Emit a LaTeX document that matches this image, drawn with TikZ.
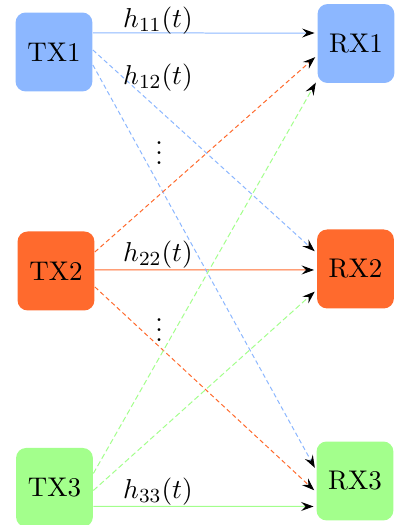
\documentclass[tikz,border=0pt]{standalone}
\usepackage{amsmath, amssymb}
\usepackage{xcolor}
\usepackage{tikz}
\usetikzlibrary{arrows.meta, positioning}

\definecolor{chblue}{RGB}{140,183,255}
\definecolor{chorange}{RGB}{255,106,45}
\definecolor{chgreen}{RGB}{163,255,140}

\begin{document}
\begin{tikzpicture}[
unit/.style={rounded corners=4pt, minimum width=1.08cm, minimum height=1.11cm, align=center},
link/.style={thin, shorten >=1pt, -{Stealth[length=5pt, width=3.6pt, inset=1.8pt, color=black]}},
cross/.style={link, dash pattern=on 1.8pt off 1.2pt},
every node/.style={font=\fontsize{10.8pt}{13pt}\selectfont}
]
\useasboundingbox (0,0) rectangle (5.54,-7.382);
% transmitters
\node[unit, fill=chblue] (tx1) at (0.759,-0.731) {TX1};
\node[unit, fill=chorange] (tx2) at (0.787,-3.810) {TX2};
\node[unit, fill=chgreen] (tx3) at (0.766,-6.854) {TX3};
% receivers
\node[unit, fill=chblue] (rx1) at (5.005,-0.612) {RX1};
\node[unit, fill=chorange] (rx2) at (4.998,-3.782) {RX2};
\node[unit, fill=chgreen] (rx3) at (4.991,-6.763) {RX3};
% direct links
\draw[link, chblue] ([yshift=7.6pt]tx1.east) -- ([yshift=4.2pt]rx1.west);
\draw[link, chorange] ([yshift=0.4pt]tx2.east) -- ([yshift=-0.4pt]rx2.west);
\draw[link, chgreen] ([yshift=-7.6pt]tx3.east) -- ([yshift=-10.2pt]rx3.west);
% cross links
\draw[cross, chblue] ([yshift=0.8pt]tx1.east) -- ([yshift=6.4pt]rx2.west);
\draw[cross, chblue] ([yshift=-5.2pt]tx1.east) -- ([yshift=4.4pt]rx3.west);
\draw[cross, chorange] ([yshift=7.6pt]tx2.east) -- ([yshift=-4.8pt]rx1.west);
\draw[cross, chorange] ([yshift=-6.4pt]tx2.east) -- ([yshift=-4.4pt]rx3.west);
\draw[cross, chgreen, dash pattern=on 2.2pt off 1.2pt] ([yshift=5.6pt]tx3.east) -- ([yshift=-14.8pt]rx1.west);
\draw[cross, chgreen, dash pattern=on 2.2pt off 1.2pt] ([yshift=-1.2pt]tx3.east) -- ([yshift=-8.4pt]rx2.west);
% labels
\node (h11) at (2.221,-0.295) {$h_{11}(t)$};
\node (h12) at (2.221,-1.097) {$h_{12}(t)$};
\node (dots1) at (2.236,-2.053) {$\vdots$};
\node (h22) at (2.221,-3.585) {$h_{22}(t)$};
\node (dots2) at (2.236,-4.541) {$\vdots$};
\node (h33) at (2.221,-6.918) {$h_{33}(t)$};
\end{tikzpicture}
\end{document}
